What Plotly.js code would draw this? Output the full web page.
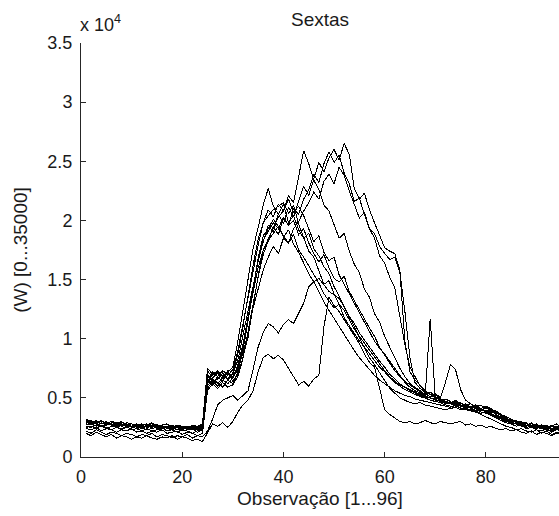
<!DOCTYPE html>
<html>
<head>
<meta charset="utf-8">
<script src="https://cdn.plot.ly/plotly-3.0.1.min.js"></script>
<style>
html,body{margin:0;padding:0;background:#fff;overflow:hidden}
#chart{width:559px;height:516px}
.js-line{shape-rendering:crispEdges}
</style>
</head>
<body>
<div id="chart"></div>
<script>
// Observation index 1..96
const obs = Array.from({length: 96}, (_, i) => i + 1);

const s1 = [3000,2900,3100,2800,2900,2700,2800,3000,2700,2600,2800,2700,
2800,2600,2700,2500,2600,2700,2500,2600,2400,2600,2500,2700,
6900,6300,6600,7100,6500,7000,8200,10300,12600,14600,16500,18200,
19600,19000,20600,19700,21100,20300,21600,22900,22100,23600,24900,24100,
25300,26000,25100,26500,25600,22700,21800,22300,20900,19800,18800,17700,
17400,17200,15800,9800,7200,6500,6100,5600,5300,5100,4900,4700,
4600,4500,4400,4300,4500,4200,4100,4300,4000,3900,3600,3300,
3100,2900,2800,2600,2900,2500,2700,2400,2600,2500,2300,2600];

const s2 = [2700,2800,2600,2900,2700,2800,2600,2700,2800,2500,2600,2700,
2500,2600,2800,2400,2500,2600,2300,2500,2600,2400,2500,2300,
6200,7200,6800,6400,7300,6600,7800,9500,11800,13900,16000,17500,
18200,19500,18800,20200,19600,21000,20500,21800,22600,23900,23200,24800,
25800,24900,25500,24000,23100,21600,21900,20500,19300,18500,17000,16400,
15200,14300,12000,9500,7600,6800,6000,5500,5300,5000,4800,4900,
4700,4400,4600,4300,4200,4400,4100,4300,4100,3800,3500,3200,
3000,2800,3000,2700,2600,2800,2500,2700,2400,2600,2700,2500];

const s3 = [2900,3100,2800,3000,2900,2700,2900,2800,2600,2800,2700,2500,
2700,2800,2500,2700,2400,2500,2700,2400,2600,2500,2300,2600,
7300,6700,7100,6600,6900,7400,9000,11300,13500,15800,17900,19800,
20900,20300,21400,20800,22100,21500,23600,25900,24800,23400,22600,21300,
20800,19600,18500,18900,17400,16300,15600,14200,13500,12100,11400,10200,
9300,8400,7500,6800,6200,5900,5600,5300,5500,5100,4900,4700,
4600,4800,4500,4400,4200,4300,4100,3900,4000,3700,3500,3300,
3000,2800,2700,2900,2600,2700,2500,2300,2600,2800,2500,2400];

const s4 = [2600,2500,2700,2600,2400,2600,2500,2300,2500,2600,2400,2500,
2300,2400,2500,2200,2400,2300,2500,2200,2300,2400,2100,2300,
5800,6400,6000,6500,6200,6700,7400,8800,10500,12600,14200,15800,
16900,17800,17200,18500,18100,19300,19900,20800,21500,22400,21800,23300,
23900,23100,24500,23800,22500,21400,20200,20700,19300,18900,17800,17200,
16700,16900,15600,12300,8400,6300,5800,5400,5100,5300,4900,4600,
4500,4700,4400,4200,4300,4100,3900,4200,3900,3600,3400,3100,
2900,3100,2800,2600,2700,2500,2400,2600,2300,2500,2600,2400];

const s5 = [3200,3000,2900,3100,2800,3000,2900,2700,2900,2800,2600,2800,
2700,2900,2600,2700,2800,2500,2700,2600,2400,2700,2600,2800,
7500,7000,7300,6800,7200,7600,9800,12500,15000,17600,19400,21300,
22700,21200,20500,21400,19800,20400,19200,18500,18900,17600,17000,16100,
15500,14400,13600,12700,11900,11300,10500,9900,9300,8600,8100,7600,
7000,6600,6200,5900,5700,5500,5300,5100,5000,4800,4700,4500,
4600,4400,4300,4500,4200,4100,4000,3900,3800,3700,3600,3400,
3200,3000,2900,2700,2800,2600,2500,2700,2400,2600,2500,2300];

const s6 = [2800,2700,2900,2600,2800,2700,2500,2700,2600,2800,2500,2600,
2600,2500,2700,2400,2600,2500,2300,2600,2500,2300,2400,2500,
6400,6900,7200,6900,6600,7100,8700,11000,13700,16200,18400,19800,
20400,20900,21200,21500,20600,21300,19700,18600,17400,16900,15800,14600,
14900,13800,12900,12400,11600,10800,10200,9600,9100,8500,7900,7300,
6800,6400,6100,5900,5600,5400,5200,5100,11700,5000,4800,4700,
4500,4600,4400,4300,4100,4200,4000,3900,3700,3800,3500,3200,
3100,2900,3000,2800,2700,2500,2600,2400,2700,2500,2400,2600];

const s7 = [3100,2900,3000,2800,3000,2800,2700,2900,2800,2600,2700,2500,
2700,2600,2500,2700,2400,2600,2500,2300,2500,2400,2600,2400,
6600,6100,6800,7300,7000,6800,7600,9200,11900,14300,16700,18300,
19100,19800,19300,20300,19600,20000,18800,19300,18100,17200,16500,17100,
16000,15100,14800,15300,14000,13200,12500,11700,10900,10200,9300,8600,
7900,7300,6800,6400,6100,5800,5500,5300,5100,5400,5000,6300,
7800,7400,5700,4800,4500,4300,4400,4100,4000,3800,3500,3300,
3100,3000,2800,2900,2600,2700,2500,2400,2600,2300,2500,2400];

const s8 = [2500,2600,2400,2700,2500,2300,2500,2400,2600,2300,2400,2200,
2400,2200,2300,2500,2200,2300,2100,2300,2200,2000,2200,2400,
6000,6600,6300,5900,6500,6200,7200,9000,11500,14200,16800,18700,
19300,20100,19500,18600,19200,18000,17300,16400,15500,14800,13900,13100,
12400,11700,11000,10300,9600,9000,8400,7900,7400,6900,6500,6200,
5900,5600,5400,5200,5100,4900,4800,4700,4600,4500,4400,4300,
4200,4400,4100,4000,3900,4100,3800,3700,3600,3400,3200,3000,
2900,2800,2600,2700,2500,2400,2600,2300,2200,2400,2300,2200];

const s9 = [2700,2900,2800,2600,2700,2900,2800,2600,2700,2500,2600,2400,
2600,2700,2400,2600,2500,2400,2600,2300,2500,2600,2400,2200,
7000,6500,6200,6700,7100,6400,7000,8400,10100,12700,15300,17500,
18400,19300,20300,20800,21800,20700,21200,20400,19300,18200,18700,17300,
16600,16900,15400,14600,13800,12900,12200,11400,10600,9800,9200,8700,
8100,7500,6900,6300,5900,5600,5400,5200,5000,4900,4700,4600,
4500,4300,4200,4400,4100,3900,4000,3800,3600,3500,3300,3100,
3000,2800,2700,2500,2600,2400,2700,2500,2400,2300,2500,2700];

const s10 = [2400,2300,2500,2200,2400,2300,2100,2300,2200,2400,2100,2200,
2000,2200,2100,2300,2000,2100,2200,1900,2100,2000,1800,2000,
5600,6200,5800,6300,5900,6100,6800,8300,10600,12900,15200,17100,
18300,18900,19500,18700,18100,18800,17500,16900,16200,15500,14700,13800,
13200,12600,12900,11800,11100,10400,9800,9300,8700,8100,7600,7200,
6700,6300,6000,5700,5500,5300,5100,5000,4800,4700,4600,4400,
4300,4200,4400,4100,4000,3900,3700,3800,3500,3300,3100,2900,
2800,2600,2700,2400,2500,2300,2200,2400,2100,2300,2200,2000];

const s11 = [2200,2000,2300,2100,1900,2100,2000,1800,2000,1900,1700,1900,
1800,2000,1700,1900,1800,1600,1800,1700,1900,1600,1800,1700,
2200,3200,4400,4800,5000,5200,4800,5200,5600,7400,9300,10500,
11300,11000,10500,11200,11600,11300,12100,13000,14400,14800,15100,14500,
14000,13700,13400,12700,11900,11000,10100,9200,8400,7800,7100,6400,
5800,5400,5000,4800,4600,4500,4600,4400,4300,4200,4100,4000,
4100,4200,4000,4100,3900,3800,3600,3400,3200,3000,2800,2600,
2500,2300,2400,2200,2100,2300,2000,2200,1900,2100,2000,1900];

const s12 = [2000,1800,2100,1900,1700,1900,1600,1800,1700,1500,1700,1600,
1800,1600,1500,1700,1600,1800,1500,1700,1600,1400,1500,1300,
2100,2800,2600,2900,2500,3000,3800,4400,4800,5600,7200,8400,
8700,8300,8600,8200,7500,6800,6100,6400,6000,6600,6900,11000,
13500,12800,12300,11600,10900,10200,9600,8700,8000,7600,5800,4000,
3600,3300,3000,2900,3000,2800,2900,3100,2900,2800,3000,2900,
2800,2900,3000,2700,2800,2600,2700,2500,2600,2400,2300,2400,
2200,2300,2100,2000,2200,1900,2100,2000,1800,2000,1900,2100];

const seriesList = [s1,s2,s3,s4,s5,s6,s7,s8,s9,s10,s11,s12];
const yTickVals = [0,5000,10000,15000,20000,25000,30000,35000];
const yTickText = ['0','0.5','1','1.5','2','2.5','3','3.5'];
const xTickVals = [0,20,40,60,80];

const traces = seriesList.map((s) => ({
  x: obs, y: s, type: 'scatter', mode: 'lines',
  line: {color: '#000', width: 1}, showlegend: false, hoverinfo: 'skip'
}));

const fam = 'Liberation Sans, Arial, sans-serif';
const tickFont = {family: fam, size: 18, color: '#1a1a1a'};
const labFont = {family: fam, size: 19, color: '#1a1a1a'};

const layout = {
  width: 559, height: 516,
  margin: {l: 81, r: 0, t: 43, b: 59, pad: 0},
  paper_bgcolor: '#fff', plot_bgcolor: '#fff',
  font: tickFont,
  title: {text: 'Sextas', font: labFont,
          x: 0.5, xref: 'paper', xanchor: 'center', y: 1 - 19/516, yref: 'container', yanchor: 'middle'},
  xaxis: {
    range: [0, 94.45], tickvals: xTickVals, ticks: 'inside', ticklen: 5, tickcolor: '#262626',
    showline: true, linecolor: '#262626', linewidth: 1, showgrid: false, zeroline: false,
    tickfont: tickFont, ticklabelstandoff: 3,
    title: {text: 'Observação [1...96]', font: labFont, standoff: 6}
  },
  yaxis: {
    range: [0, 35000], tickvals: yTickVals, ticktext: yTickText, ticks: 'inside', ticklen: 5,
    tickcolor: '#262626', showline: true, linecolor: '#262626', linewidth: 1,
    showgrid: false, zeroline: false, tickfont: tickFont, ticklabelstandoff: 4,
    title: {text: '(W) [0...35000]', font: labFont, standoff: 14}
  },
  annotations: [{
    text: 'x 10<sup>4</sup>', xref: 'paper', yref: 'paper', x: 0, y: 1,
    xanchor: 'left', yanchor: 'bottom', yshift: 6, xshift: -3, showarrow: false,
    font: {family: fam, size: 18, color: '#1a1a1a'}
  }]
};

Plotly.newPlot('chart', traces, layout, {staticPlot: true, displayModeBar: false});
</script>
</body>
</html>
